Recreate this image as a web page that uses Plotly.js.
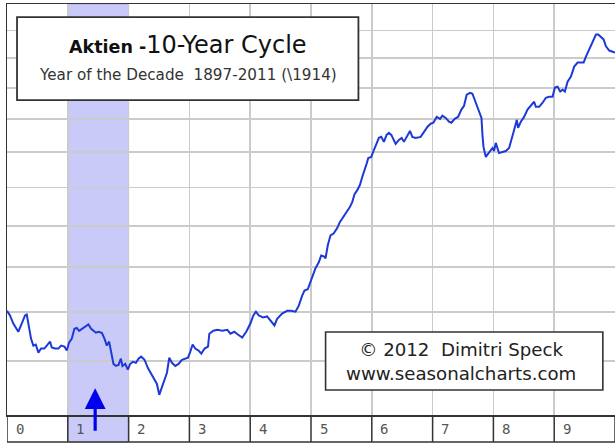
<!DOCTYPE html>
<html>
<head>
<meta charset="utf-8">
<script src="https://cdn.plot.ly/plotly-3.0.1.min.js"></script>
<style>html,body{margin:0;padding:0;background:#fff;}#chart{width:615px;height:444px;}</style>
</head>
<body>
<div id="chart"></div>
<script>
// Year of the decade (0..10) and seasonal index value (log scale)
const yearOfDecade = [0,0.049,0.104,0.160,0.186,0.242,0.297,0.325,0.351,0.395,0.433,0.473,0.516,0.560,0.614,0.670,0.708,0.736,0.791,0.845,0.890,0.944,0.983,1.021,1.066,1.109,1.148,1.186,1.240,1.296,1.339,1.384,1.422,1.461,1.504,1.560,1.603,1.642,1.680,1.713,1.751,1.791,1.834,1.873,1.899,1.944,1.988,2.026,2.071,2.120,2.163,2.207,2.262,2.318,2.372,2.427,2.466,2.504,2.537,2.591,2.631,2.669,2.713,2.768,2.822,2.878,2.932,2.977,3.015,3.053,3.097,3.151,3.196,3.250,3.306,3.328,3.394,3.459,3.542,3.624,3.674,3.738,3.803,3.869,3.935,4.003,4.052,4.094,4.140,4.212,4.278,4.333,4.399,4.443,4.525,4.608,4.674,4.745,4.799,4.855,4.893,4.947,5.020,5.074,5.128,5.168,5.211,5.239,5.277,5.321,5.375,5.431,5.474,5.530,5.584,5.639,5.678,5.716,5.761,5.804,5.843,5.881,5.914,5.942,5.992,6.034,6.079,6.117,6.156,6.199,6.244,6.281,6.321,6.354,6.392,6.446,6.491,6.528,6.573,6.628,6.667,6.721,6.804,6.858,6.914,6.968,7.013,7.067,7.122,7.161,7.216,7.270,7.309,7.364,7.418,7.474,7.517,7.561,7.616,7.655,7.710,7.764,7.804,7.820,7.837,7.875,7.912,7.945,7.985,8.011,8.039,8.067,8.093,8.149,8.204,8.258,8.298,8.341,8.385,8.406,8.451,8.505,8.561,8.616,8.670,8.698,8.753,8.809,8.863,8.917,8.973,9.011,9.056,9.099,9.138,9.176,9.220,9.275,9.329,9.385,9.440,9.484,9.522,9.576,9.632,9.687,9.724,9.769,9.813,9.851,9.906,9.962,10.0];
const cycleIndex = [110.2,109.2,107.5,106.4,105.8,107.5,109.2,109.4,107.7,104.4,103.0,103.2,101.6,102.4,102.4,103.2,103.8,102.6,102.4,102.4,103.0,102.8,102.0,103.6,104.4,106.4,106.6,106.0,106.4,106.9,107.3,106.4,106.0,105.6,105.8,105.6,104.4,103.0,103.8,102.0,99.4,99.0,99.2,100.4,99.0,99.4,98.3,99.4,99.8,99.6,100.4,100.8,100.2,98.6,97.5,96.6,95.6,93.6,94.7,96.2,97.7,100.6,99.6,99.0,99.4,100.2,100.4,100.6,101.8,103.2,102.4,102.0,101.4,102.4,102.8,105.4,106.0,106.2,106.0,106.2,105.4,105.8,105.2,104.6,105.8,107.5,109.2,110.0,109.2,108.8,109.0,108.1,107.1,108.5,109.6,110.2,110.2,110.0,111.3,113.5,114.6,114.9,117.6,119.7,121.1,122.7,122.5,122.0,125.2,127.6,128.1,129.4,130.9,132.2,133.7,134.8,136.1,138.2,139.3,140.7,142.9,144.6,146.6,148.3,148.6,150.6,152.7,154.2,154.5,153.0,155.1,155.7,155.1,153.6,152.4,153.6,154.2,153.0,154.5,156.3,154.5,154.2,154.5,156.0,157.5,158.5,158.8,160.6,160.0,161.0,160.3,159.1,158.8,160.0,160.6,162.9,164.1,167.7,168.3,168.0,165.1,162.5,160.3,155.1,151.5,148.6,149.7,150.3,151.2,150.3,152.7,151.2,149.7,150.0,150.3,151.2,154.2,156.6,159.7,157.2,159.1,160.6,162.9,164.1,165.4,163.8,163.8,165.1,166.7,167.0,167.0,170.0,170.3,168.7,169.3,168.7,172.0,173.7,177.1,178.5,178.5,178.5,180.6,183.1,185.9,188.5,188.5,187.4,186.7,184.2,182.7,182.3,182.0];
const yearBoundaries = [0,1,2,3,4,5,6,7,8,9,10];
const tickLabels = ['0','1','2','3','4','5','6','7','8','9'];
const gridValues = [100,110,120,130,140,150,160,170,180,190];
const highlightYear = 1;

const BAND = -0.0657; // label band depth in paper units

const shapes = [];
// highlighted year (plot + label cell)
shapes.push({type:'rect', xref:'x', yref:'paper', x0:highlightYear, x1:highlightYear+1, y0:BAND, y1:1,
  fillcolor:'#cacaf8', line:{color:'#a4a4e6', width:1}, layer:'below'});
// label band cell borders
yearBoundaries.forEach(b => {
  shapes.push({type:'line', xref:'x', yref:'paper', x0:b, x1:b, y0:BAND, y1:0, line:{color:'#333', width:1.5}});
});
shapes.push({type:'line', xref:'x', yref:'paper', x0:0, x1:10, y0:BAND, y1:BAND, line:{color:'#333', width:1.5}});
// title box
shapes.push({type:'rect', xref:'paper', yref:'paper', x0:0.0165, x1:0.578, y0:0.766, y1:0.968,
  fillcolor:'#fff', line:{color:'#333', width:1.8}, layer:'above'});
// copyright box
shapes.push({type:'rect', xref:'paper', yref:'paper', x0:0.524, x1:0.980, y0:0.061, y1:0.202,
  fillcolor:'#fff', line:{color:'#333', width:1.6}, layer:'above'});

const annotations = tickLabels.map((t, i) => ({
  text: t, xref:'x', yref:'paper', x: i + 0.11, y: -0.035, xanchor:'left', yanchor:'middle',
  showarrow:false, font:{family:'DejaVu Sans Mono', size:14, color:'#555'}
}));
annotations.push({
  text:'<b>Aktien -</b><span style="font-size:24px">10-Year Cycle</span>',
  xref:'paper', yref:'paper', x:0.297, y:0.9, xanchor:'center', yanchor:'middle', showarrow:false,
  font:{family:'DejaVu Sans', size:17.5, color:'#111'}
});
annotations.push({
  text:'Year of the Decade  1897-2011 (\\1914)',
  xref:'paper', yref:'paper', x:0.297, y:0.828, xanchor:'center', yanchor:'middle', showarrow:false,
  font:{family:'DejaVu Sans', size:15.2, color:'#333'}
});
annotations.push({
  text:'© 2012  Dimitri Speck<br>www.seasonalcharts.com',
  xref:'paper', yref:'paper', x:0.746, y:0.131, xanchor:'center', yanchor:'middle', showarrow:false,
  font:{family:'DejaVu Sans', size:18.2, color:'#222'}
});
// upward arrow under the highlighted year
annotations.push({
  text:'', xref:'x', yref:'paper', x:1.45, y:0.065, ax:0, ay:44, axref:'pixel', ayref:'pixel',
  showarrow:true, arrowhead:2, arrowsize:1.3, arrowwidth:3.2, arrowcolor:'#0000ee'
});

const trace = {x: yearOfDecade, y: cycleIndex, type:'scatter', mode:'lines',
  line:{color:'#1d3ad8', width:2}, hoverinfo:'skip'};

const layout = {
  width:615, height:444,
  margin:{l:7, r:0, t:4, b:29, pad:0},
  paper_bgcolor:'#fff', plot_bgcolor:'#fff',
  showlegend:false,
  xaxis:{range:[0,10], tickvals:yearBoundaries, showticklabels:false, ticks:'',
    showgrid:true, gridcolor:'#cbcbcb', gridwidth:1.7, zeroline:false,
    showline:true, mirror:true, linecolor:'#333', linewidth:1.5},
  yaxis:{type:'log', range:[Math.log10(90), Math.log10(200)], tickvals:gridValues, showticklabels:false, ticks:'',
    showgrid:true, gridcolor:'#cbcbcb', gridwidth:1.7, zeroline:false,
    showline:true, mirror:false, linecolor:'#333', linewidth:1.5},
  shapes: shapes,
  annotations: annotations
};

Plotly.newPlot('chart', [trace], layout, {staticPlot:true, displayModeBar:false});
</script>
</body>
</html>
